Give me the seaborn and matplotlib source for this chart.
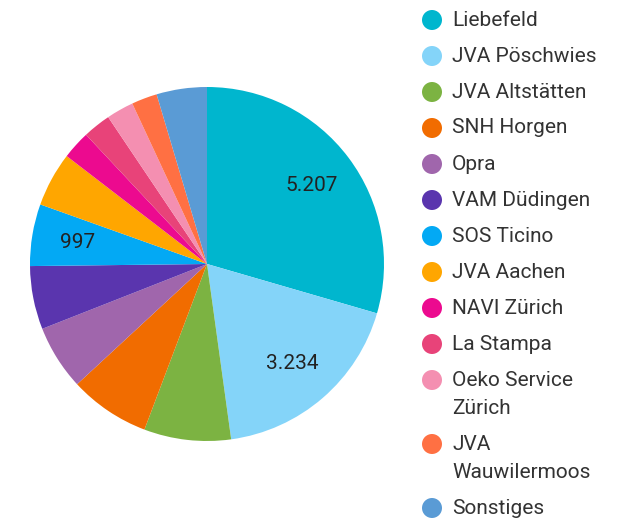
import numpy as np
import matplotlib
matplotlib.use("Agg")
import matplotlib.pyplot as plt
import seaborn as sns

# Data
names = ['Liebefeld', 'JVA Pöschwies', 'JVA Altstätten', 'SNH Horgen', 'Opra',
         'VAM Düdingen', 'SOS Ticino', 'JVA Aachen', 'NAVI Zürich', 'La Stampa',
         'Oeko Service\nZürich', 'JVA\nWauwilermoos', 'Sonstiges']
values = [5207, 3234, 1400, 1300, 1045, 1020, 997, 878, 457, 450, 440, 413, 811]
colors = ['#00B6CE', '#84D4F9', '#7CB342', '#F16C00', '#A066AC', '#5A35AE',
          '#03A9F4', '#FFA600', '#EC0A8F', '#E84379', '#F48FB1', '#FF7043', '#5A9BD5']
shown = ['Liebefeld', 'JVA Pöschwies', 'SOS Ticino']

sns.set_theme(style="white")
plt.rcParams['font.family'] = ['Roboto', 'DejaVu Sans']
palette = sns.color_palette(colors)

W, H = 626, 521
fig = plt.figure(figsize=(W / 100, H / 100), dpi=100)
cx, cy, r = 207, 264, 177
ax = fig.add_axes([(cx - r) / W, (H - cy - r) / H, 2 * r / W, 2 * r / H])

wedges, _ = ax.pie(values, colors=palette, startangle=90, counterclock=False,
                   radius=1, wedgeprops=dict(linewidth=0))
ax.set_xlim(-1, 1)
ax.set_ylim(-1, 1)
ax.set_aspect('equal')
ax.axis('off')

def fmt(v):
    return f"{v:,}".replace(',', '.')

for w, name, v in zip(wedges, names, values):
    if name not in shown:
        continue
    mid = np.deg2rad((w.theta1 + w.theta2) / 2)
    d = 0.74
    ax.text(d * np.cos(mid), d * np.sin(mid), fmt(v), ha='center', va='center',
            fontsize=15, color='#222222')

# legend
y = 20
mx, tx = 432, 452
for name, c in zip(names, palette):
    fig.add_artist(matplotlib.patches.Ellipse((mx / W, 1 - y / H), 20 / W, 20 / H,
                                              transform=fig.transFigure, color=c, lw=0))
    lines = name.split('\n')
    for i, ln in enumerate(lines):
        fig.text(tx / W, 1 - (y + i * 28) / H, ln, ha='left', va='center',
                 fontsize=15, color='#333333')
    y += 36 + 28 * (len(lines) - 1)

fig.savefig('out.png', dpi=100, facecolor='white')
